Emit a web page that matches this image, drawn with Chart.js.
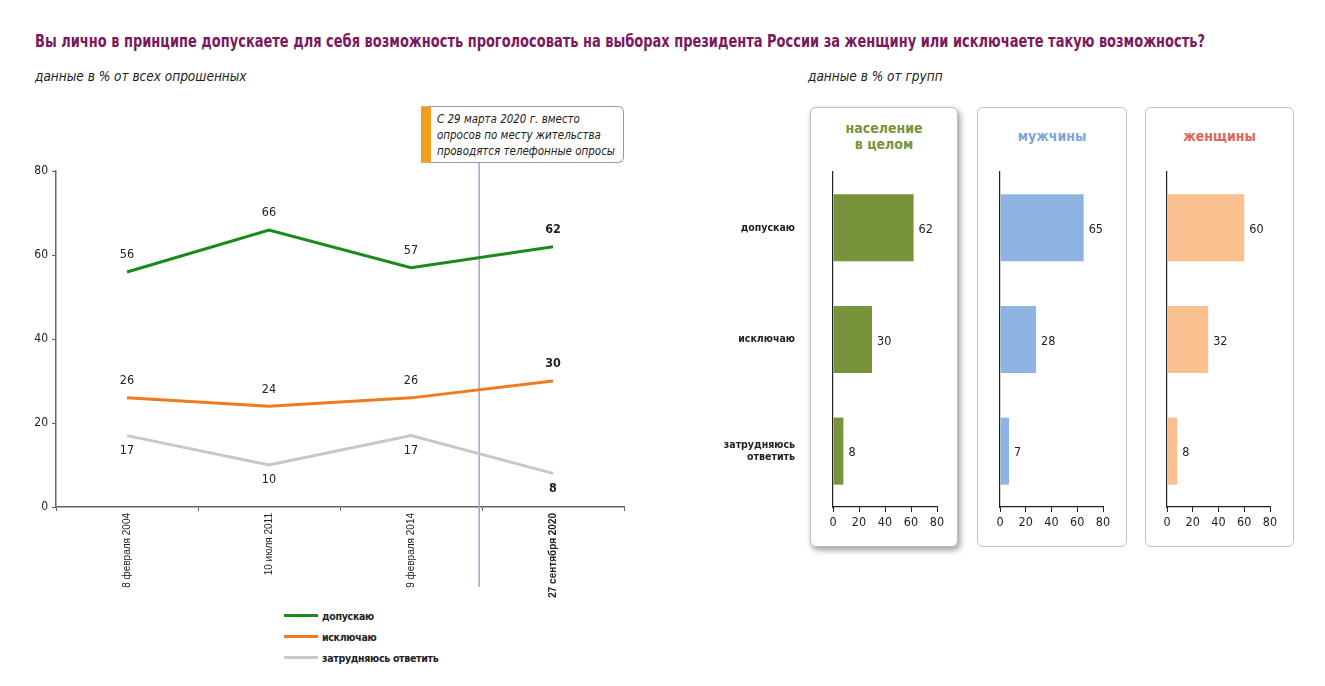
<!DOCTYPE html>
<html lang="ru">
<head>
  <meta charset="UTF-8">
  <title>Женщина-президент</title>
  <script src="https://cdn.jsdelivr.net/npm/chart.js"></script>
  <style>
    body { margin: 0; background: #fff; font-family: "Liberation Sans Narrow", "DejaVu Sans Condensed", sans-serif; color: #222; }
    #page { position: relative; width: 1325px; height: 686px; overflow: hidden; }
    .abs { position: absolute; }
    .fit { white-space: nowrap; transform-origin: 0 0; display: inline-block; }
    #title { left: 35px; top: 31px; font-size: 17.5px; font-weight: bold; color: #7b1a5e; }
    .sub { top: 68px; font-size: 13.5px; font-style: italic; color: #222; }
    #note { left: 421px; top: 106px; width: 203px; height: 57px; border: 1.5px solid #a78bb8; border-left: 10px solid #f39c1f;
            border-radius: 0 6px 6px 0; font-size: 12.5px; font-style: italic; line-height: 16px; padding: 4px 0 0 6px;
            box-sizing: border-box; background: #fff; }
    .panel { top: 107px; height: 440px; border: 1px solid #c4c4c4; border-radius: 6px; box-sizing: border-box; background: #fff; }
    #p1 { left: 810px; width: 148px; box-shadow: 2px 3px 6px rgba(0,0,0,0.4); border-color: #bdbdbd; }
    #p2 { left: 977px; width: 150px; }
    #p3 { left: 1145px; width: 149px; }
    .ptitle { width: 100%; text-align: center; font-weight: bold; font-size: 14px; line-height: 16px; }
    #legend { left: 284px; top: 605px; font-size: 10.5px; font-weight: bold; letter-spacing: -0.3px; }
    #legend div { height: 21px; display: flex; align-items: center; }
    #legend span.l { display: inline-block; width: 34px; height: 3px; margin-right: 4px; }
  </style>
</head>
<body>
<div id="page">
  <div id="title" class="abs fit">Вы лично в принципе допускаете для себя возможность проголосовать на выборах президента России за женщину или исключаете такую возможность?</div>
  <div class="abs sub" style="left:35px">данные в % от всех опрошенных</div>
  <div class="abs sub" style="left:808px">данные в % от групп</div>

  <div class="abs panel" id="p1"><div class="ptitle" id="t1" style="margin-top:12px"></div></div>
  <div class="abs panel" id="p2"><div class="ptitle" id="t2" style="margin-top:20px"></div></div>
  <div class="abs panel" id="p3"><div class="ptitle" id="t3" style="margin-top:20px"></div></div>

  <canvas id="lineChart" class="abs" style="left:0;top:160px" width="640" height="440"></canvas>
  <div id="note" class="abs"><span id="noteText" class="fit">С 29 марта 2020 г. вместо<br>опросов по месту жительства<br>проводятся телефонные опросы</span></div>
  <div id="legend" class="abs"></div>

  <canvas id="bar1" class="abs" style="left:705px;top:160px" width="253" height="380"></canvas>
  <canvas id="bar2" class="abs" style="left:990px;top:160px" width="134" height="380"></canvas>
  <canvas id="bar3" class="abs" style="left:1157px;top:160px" width="134" height="380"></canvas>
</div>

<script>
  // Data
  const dates = ["8 февраля 2004", "10 июля 2011", "9 февраля 2014", "27 сентября 2020"];
  const seriesNames = ["допускаю", "исключаю", "затрудняюсь ответить"];
  const allowValues = [56, 66, 57, 62];
  const excludeValues = [26, 24, 26, 30];
  const unsureValues = [17, 10, 17, 8];

  const groupNames = [["население", "в целом"], ["мужчины"], ["женщины"]];
  const answerLabels = [["допускаю"], ["исключаю"], ["затрудняюсь", "ответить"]];
  const populationValues = [62, 30, 8];
  const menValues = [65, 28, 7];
  const womenValues = [60, 32, 8];

  const lineColors = ["#1b8a1b", "#f07a1e", "#c8c8c8"];
  const groupColors = ["#77933c", "#8db4e2", "#fac090"];
  const groupTitleColors = ["#77933c", "#7fa6d8", "#e0645a"];

  const FONT = '"Liberation Sans Narrow", "DejaVu Sans Condensed", sans-serif';
  Chart.defaults.font.family = FONT;
  Chart.defaults.color = "#222";

  // squeeze text blocks to the widths of the original
  function squeeze(id, width) {
    const el = document.getElementById(id);
    const w = el.getBoundingClientRect().width;
    el.style.transform = "scaleX(" + (width / w) + ")";
  }
  squeeze("title", 1170);
  squeeze("noteText", 178);

  // Panel titles and legend
  groupNames.forEach((g, i) => {
    const el = document.getElementById("t" + (i + 1));
    el.innerHTML = g.join("<br>");
    el.style.color = groupTitleColors[i];
  });
  const legend = document.getElementById("legend");
  seriesNames.forEach((name, i) => {
    const row = document.createElement("div");
    row.innerHTML = '<span class="l" style="background:' + lineColors[i] + '"></span>' + name;
    legend.appendChild(row);
  });

  // Value labels next to points / bars
  const valueLabels = {
    id: "valueLabels",
    afterDatasetsDraw(chart) {
      const ctx = chart.ctx;
      ctx.save();
      ctx.fillStyle = "#222";
      chart.data.datasets.forEach((ds, di) => {
        const meta = chart.getDatasetMeta(di);
        meta.data.forEach((el, i) => {
          const last = chart.config.type === "line" && i === ds.data.length - 1;
          ctx.font = (last ? "bold " : "") + "12.5px " + FONT;
          ctx.textBaseline = "middle";
          if (chart.config.type === "line") {
            ctx.textAlign = "center";
            const dy = ds.labelPos === "below" ? 15 : -17;
            ctx.fillText(ds.data[i], el.x, el.y + dy);
          } else {
            ctx.textAlign = "left";
            ctx.fillText(ds.data[i], el.x + 5, el.y + 2);
          }
        });
      });
      ctx.restore();
    }
  };

  // Vertical marker for the change of survey method
  const methodLine = {
    id: "methodLine",
    beforeDatasetsDraw(chart) {
      const x = chart.scales.x.getPixelForValue(2.48);
      const ctx = chart.ctx;
      ctx.save();
      ctx.strokeStyle = "#b49cc4";
      ctx.lineWidth = 1.5;
      ctx.beginPath();
      ctx.moveTo(x, 0);
      ctx.lineTo(x, 427);
      ctx.stroke();
      ctx.restore();
    }
  };

  new Chart(document.getElementById("lineChart"), {
    type: "line",
    data: {
      labels: dates,
      datasets: [
        { label: seriesNames[0], data: allowValues, borderColor: lineColors[0], labelPos: "above" },
        { label: seriesNames[1], data: excludeValues, borderColor: lineColors[1], labelPos: "above" },
        { label: seriesNames[2], data: unsureValues, borderColor: lineColors[2], labelPos: "below" }
      ].map(d => Object.assign(d, { borderWidth: 3, pointRadius: 0, tension: 0, fill: false }))
    },
    options: {
      responsive: false,
      animation: false,
      layout: { padding: { top: 11, right: 16, left: 0, bottom: 0 } },
      plugins: { legend: { display: false }, tooltip: { enabled: false } },
      scales: {
        x: {
          offset: true,
          grid: { offset: true, drawOnChartArea: false, tickLength: 4, color: "#666" },
          border: { color: "#666", width: 1.5 },
          ticks: {
            minRotation: 90, maxRotation: 90, padding: 2, color: "#222",
            font: c => ({ family: '"Liberation Sans", Arial, sans-serif', size: 10, weight: c.index === 3 ? "bold" : "normal" })
          },
          afterFit: s => { s.height = 93; s.paddingLeft = 0; s.paddingRight = 0; }
        },
        y: {
          min: 0, max: 80,
          ticks: { stepSize: 20, padding: 4, font: { size: 12 } },
          grid: { drawOnChartArea: false, tickLength: 4, color: "#666" },
          border: { color: "#666", width: 1.5 },
          afterFit: s => { s.width = 56; }
        }
      }
    },
    plugins: [methodLine, valueLabels]
  });

  function barChart(id, values, color, showLabels, axisWidth) {
    new Chart(document.getElementById(id), {
      type: "bar",
      data: {
        labels: answerLabels,
        datasets: [{ data: values, backgroundColor: color, categoryPercentage: 1, barPercentage: 0.6 }]
      },
      options: {
        indexAxis: "y",
        responsive: false,
        animation: false,
        layout: { padding: { top: 12, right: 21, left: 0, bottom: 0 } },
        plugins: { legend: { display: false }, tooltip: { enabled: false } },
        scales: {
          x: {
            min: 0, max: 80,
            ticks: { stepSize: 20, padding: 3, font: { size: 12.5 } },
            grid: { drawOnChartArea: false, tickLength: 5, color: "#222" },
            border: { color: "#222", width: 1.2 },
            afterFit: s => { s.height = 33; }
          },
          y: {
            grid: { drawOnChartArea: false, drawTicks: false, color: "#222" },
            border: { color: "#222", width: 1.2 },
            ticks: { display: showLabels, padding: 38, font: { size: 10.5, weight: "bold" } },
            afterFit: s => { s.width = axisWidth; s.paddingTop = 0; s.paddingBottom = 0; }
          }
        }
      },
      plugins: [valueLabels]
    });
  }

  barChart("bar1", populationValues, groupColors[0], true, 128);
  barChart("bar2", menValues, groupColors[1], false, 10);
  barChart("bar3", womenValues, groupColors[2], false, 10);
</script>
</body>
</html>
